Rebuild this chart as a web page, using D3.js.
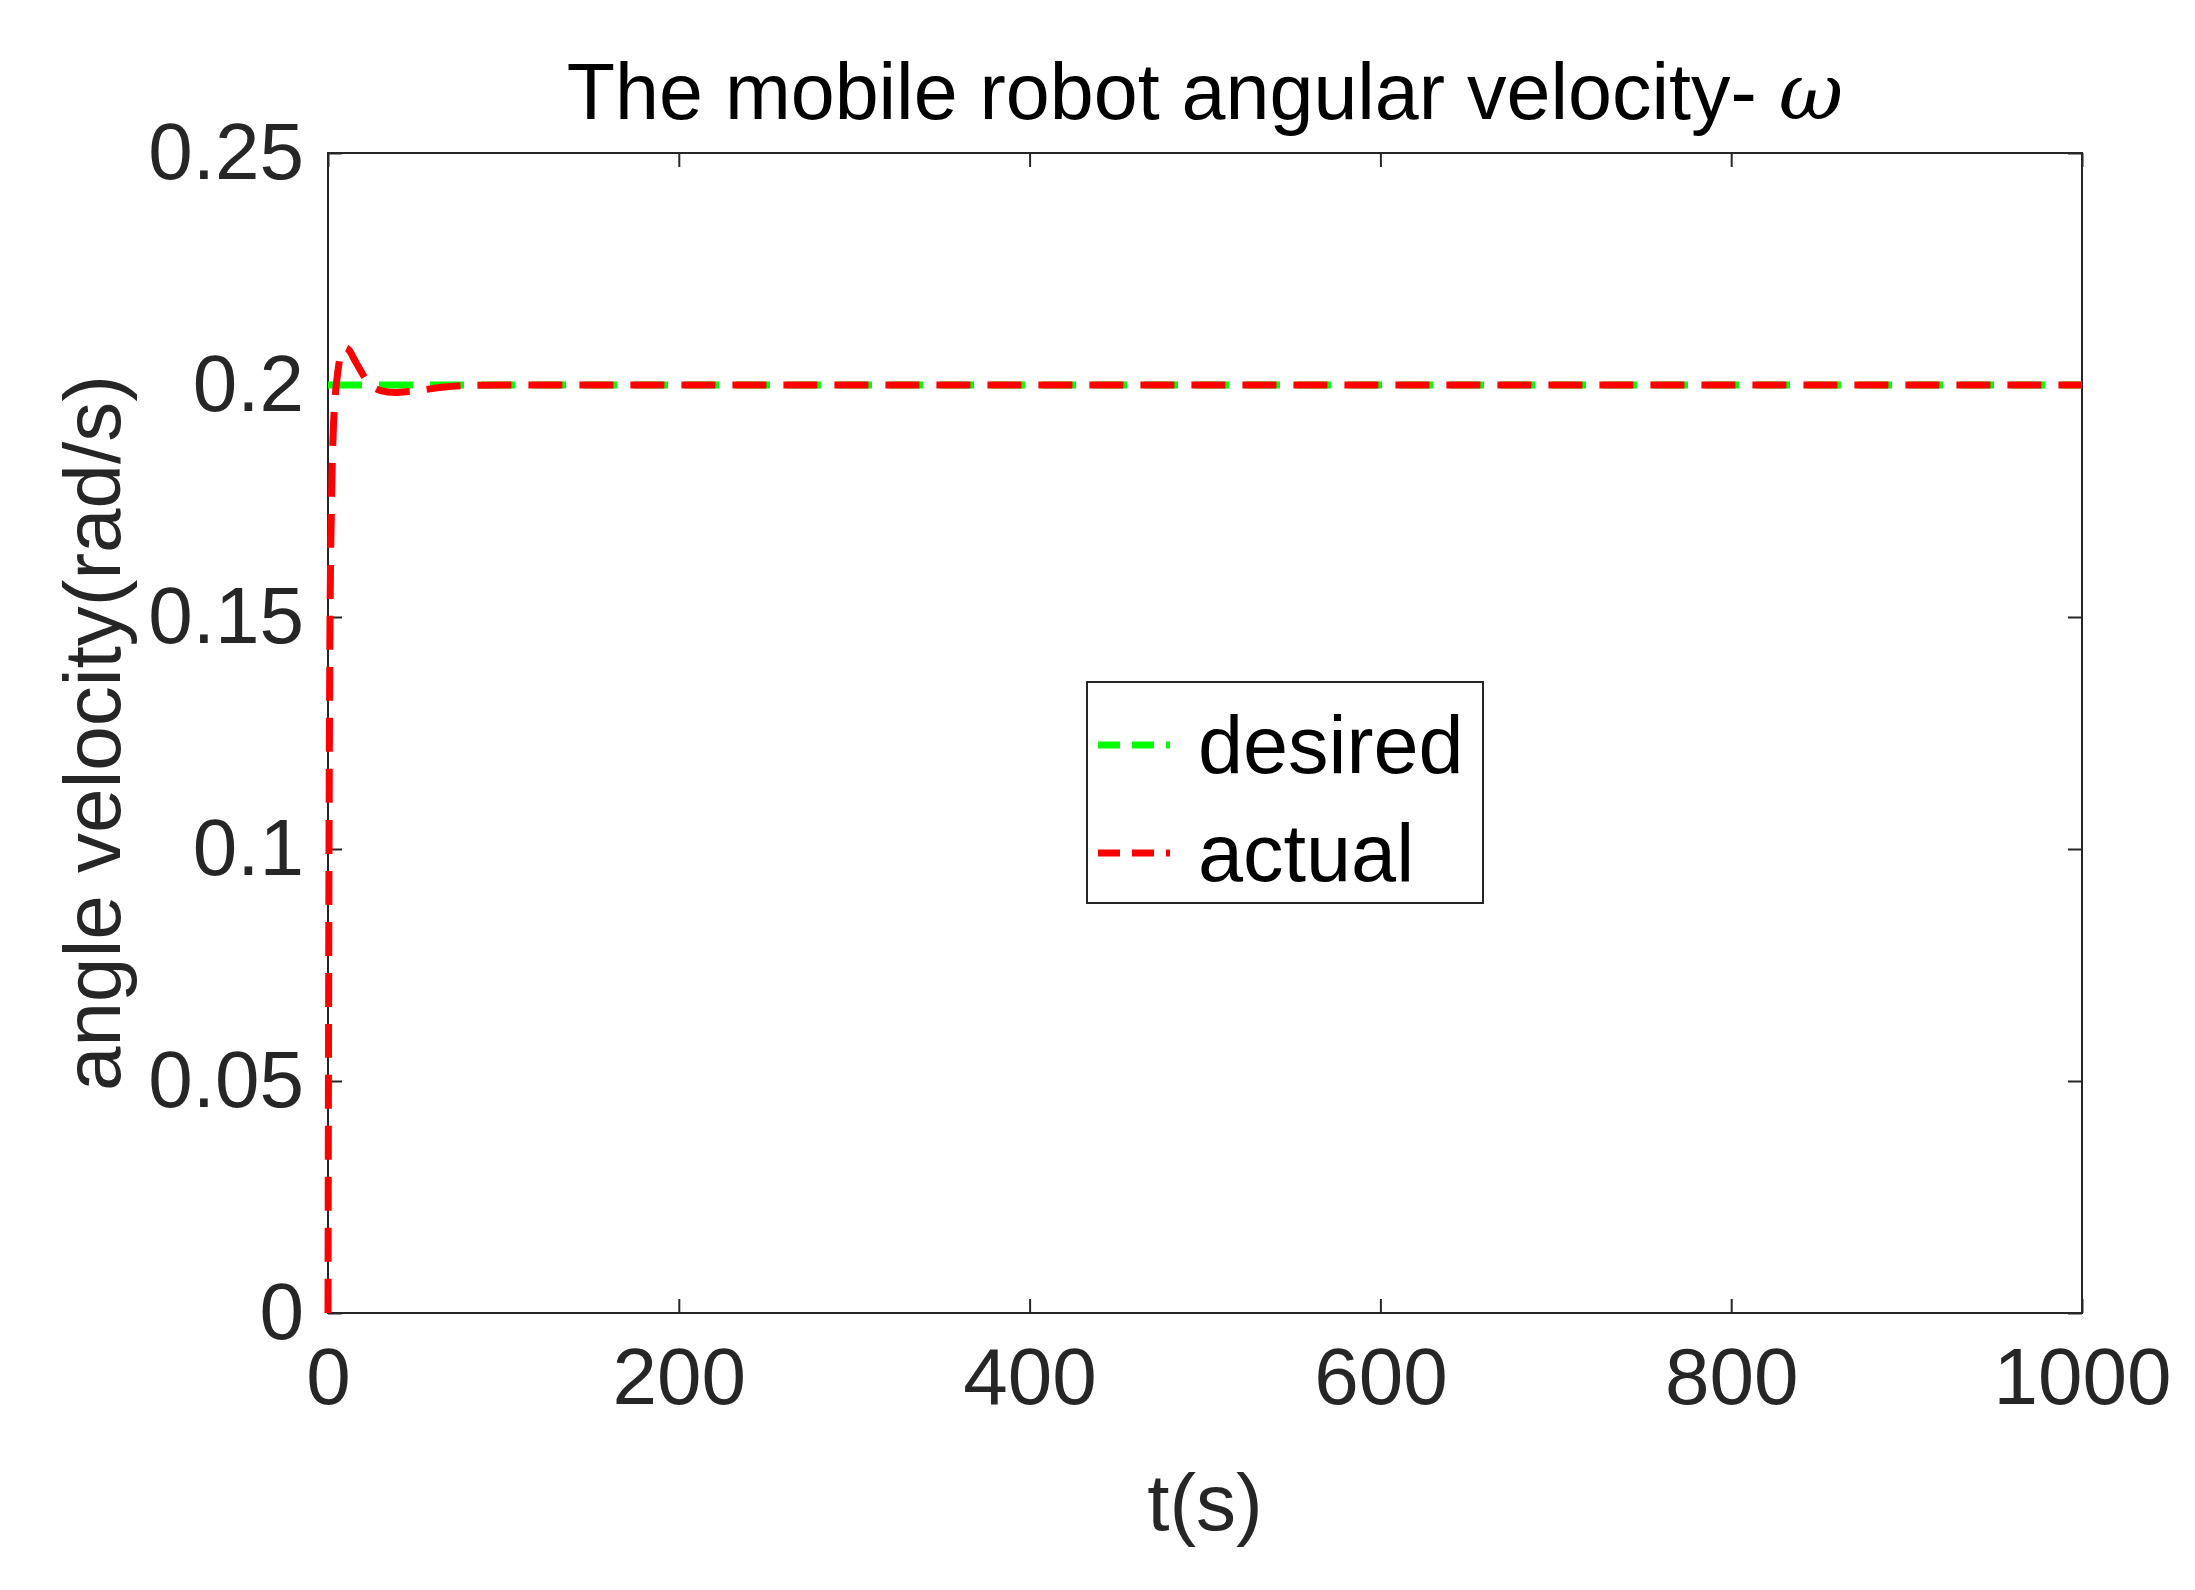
<!DOCTYPE html><html><head><meta charset="utf-8"><script src="https://cdn.jsdelivr.net/npm/d3@7"></script>
<style>body{margin:0;background:#fff}svg{font-family:"Liberation Sans",Arial,sans-serif}</style></head><body><svg id="c" width="2195" height="1590"></svg>
<script>
const desiredT=[0,1000], desiredV=[0.2,0.2];
const actualT=[0,0.5,1,2,3,4,5,6,8,10,12,15,18,22,26,30,38,46,55,65,80,100,1000];
const actualV=[0,0.09,0.14,0.175,0.19,0.197,0.201,0.204,0.2075,0.208,0.2075,0.2055,0.2035,0.201,0.1995,0.1988,0.1984,0.1986,0.199,0.1995,0.1999,0.2,0.2];
const xTicks=[0,200,400,600,800,1000], yTicks=[0,0.05,0.1,0.15,0.2,0.25];
const svg=d3.select("#c");
const L=328,R=2082,T=153,B=1313;
const x=d3.scaleLinear().domain([0,1000]).range([L,R]);
const y=d3.scaleLinear().domain([0,0.25]).range([B,T]);
const col="#262626";
svg.append("rect").attr("x",L).attr("y",T).attr("width",R-L).attr("height",B-T).attr("fill","none").attr("stroke",col).attr("stroke-width",2);
const fmt=d=>String(d);
const xa=svg.append("g").attr("transform",`translate(0,${B})`).call(d3.axisBottom(x).tickValues(xTicks).tickFormat(fmt).tickSizeInner(-14).tickSizeOuter(0).tickPadding(34));
const xt=svg.append("g").attr("transform",`translate(0,${T})`).call(d3.axisTop(x).tickValues(xTicks).tickFormat("").tickSizeInner(-14).tickSizeOuter(0));
const ya=svg.append("g").attr("transform",`translate(${L},0)`).call(d3.axisLeft(y).tickValues(yTicks).tickFormat(fmt).tickSizeInner(-14).tickSizeOuter(0).tickPadding(24));
const yr=svg.append("g").attr("transform",`translate(${R},0)`).call(d3.axisRight(y).tickValues(yTicks).tickFormat("").tickSizeInner(-14).tickSizeOuter(0));
[xa,xt,ya,yr].forEach(g=>{g.select(".domain").remove();g.selectAll("line").attr("stroke",col).attr("stroke-width",2);g.selectAll("text").attr("fill",col).attr("font-size",80).attr("font-family","Liberation Sans, Arial");});
const line=d3.line().x(d=>x(d[0])).y(d=>y(d[1])).curve(d3.curveMonotoneX);
svg.append("path").datum(desiredT.map((t,i)=>[t,desiredV[i]])).attr("d",line).attr("fill","none").attr("stroke","#00ff00").attr("stroke-width",7).attr("stroke-dasharray","34,17");
svg.append("path").datum(actualT.map((t,i)=>[t,actualV[i]])).attr("d",line).attr("fill","none").attr("stroke","#ff0000").attr("stroke-width",7).attr("stroke-dasharray","34,17");
svg.append("text").attr("x",(L+R)/2).attr("y",119).attr("text-anchor","middle").attr("font-size",79).attr("fill","#000").text("The mobile robot angular velocity- ").append("tspan").attr("font-family","DejaVu Serif").attr("font-style","italic").text("ω");
svg.append("text").attr("x",(L+R)/2).attr("y",1530).attr("text-anchor","middle").attr("font-size",80).attr("fill",col).text("t(s)");
svg.append("text").attr("transform",`translate(120,${(T+B)/2}) rotate(-90)`).attr("text-anchor","middle").attr("font-size",80).attr("fill",col).text("angle velocity(rad/s)");
const lg=svg.append("g");
lg.append("rect").attr("x",1087).attr("y",682).attr("width",396).attr("height",221).attr("fill","#fff").attr("stroke",col).attr("stroke-width",2);
[["desired","#00ff00",745],["actual","#ff0000",853]].forEach(([n,c,yy])=>{
 lg.append("line").attr("x1",1098).attr("x2",1170).attr("y1",yy).attr("y2",yy).attr("stroke",c).attr("stroke-width",7).attr("stroke-dasharray","22,12");
 lg.append("text").attr("x",1198).attr("y",yy+28).attr("font-size",81).attr("fill","#000").text(n);
});
</script></body></html>
